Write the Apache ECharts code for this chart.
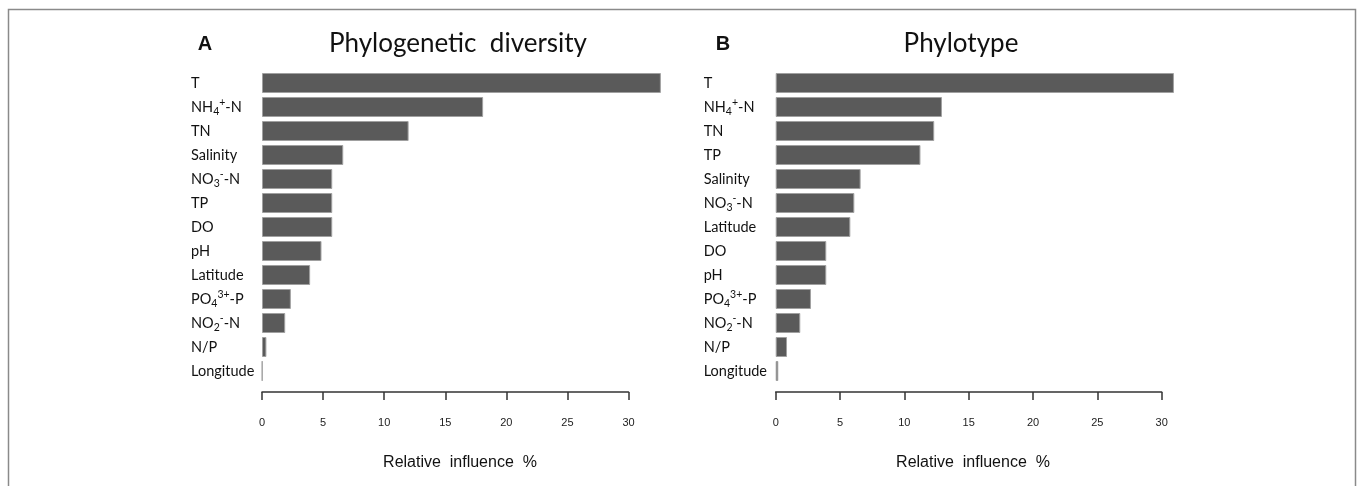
<!DOCTYPE html>
<html>
<head>
<meta charset="utf-8">
<script src="https://cdn.jsdelivr.net/npm/echarts@6/dist/echarts.min.js"></script>
<style>
  html, body { margin: 0; padding: 0; background: #fff; }
  #chart { width: 1360px; height: 486px; }
</style>
</head>
<body>
<div id="chart"></div>
<script>
// Relative influence (%) of environmental variables, two boosted-regression models
const categoriesA = ['T', 'NH4+-N', 'TN', 'Salinity', 'NO3--N', 'TP', 'DO', 'pH', 'Latitude', 'PO43+-P', 'NO2--N', 'N/P', 'Longitude'];
const valuesA = [32.65, 18.1, 12.0, 6.65, 5.75, 5.75, 5.75, 4.87, 3.94, 2.36, 1.9, 0.36, 0.03];

const categoriesB = ['T', 'NH4+-N', 'TN', 'TP', 'Salinity', 'NO3--N', 'Latitude', 'DO', 'pH', 'PO43+-P', 'NO2--N', 'N/P', 'Longitude'];
const valuesB = [30.95, 12.92, 12.32, 11.25, 6.6, 6.11, 5.8, 3.93, 3.93, 2.74, 1.91, 0.88, 0.2];

const xTicks = [0, 5, 10, 15, 20, 25, 30];
const panelTitles = ['Phylogenetic  diversity', 'Phylotype'];
const panelLetters = ['A', 'B'];
const axisTitle = 'Relative  influence  %';

// chemical names with sub/superscripts as rich text
const richNames = {
  'NH4+-N': 'NH{sub|4}{sup|+}-N',
  'NO3--N': 'NO{sub|3}{sup|-}-N',
  'PO43+-P': 'PO{sub|4}{sup|3+}-P',
  'NO2--N': 'NO{sub|2}{sup|-}-N'
};
const labelFont = 'Lato';

const chart = echarts.init(document.getElementById('chart'), null, { renderer: 'canvas' });

const grids = [
  { left: 262, top: 71, width: 366.5, height: 312 },
  { left: 775.7, top: 71, width: 386, height: 312 }
];

function yAxisFor(idx, cats) {
  return {
    type: 'category',
    gridIndex: idx,
    data: cats,
    inverse: true,
    axisLine: { show: false },
    axisTick: { show: false },
    axisLabel: {
      align: 'left',
      margin: idx === 0 ? 71 : 72,
      color: '#111',
      fontFamily: labelFont,
      fontSize: 14.5,
      formatter: (v) => richNames[v] || v,
      rich: {
        sub: { fontFamily: labelFont, fontSize: 10.5, color: '#111', padding: [9, 0, 0, 0] },
        sup: { fontFamily: labelFont, fontSize: 10.5, color: '#111', padding: [0, 0, 9, 0] }
      }
    }
  };
}

function xAxisFor(idx) {
  return {
    type: 'value',
    gridIndex: idx,
    min: xTicks[0],
    max: xTicks[xTicks.length - 1],
    interval: 5,
    position: 'bottom',
    offset: 9,
    splitLine: { show: false },
    axisLine: { show: true, lineStyle: { color: '#333', width: 1.5 } },
    axisTick: { show: true, length: 8, lineStyle: { color: '#333', width: 1.5 } },
    axisLabel: {
      margin: 25,
      color: '#222',
      fontFamily: 'Liberation Sans',
      fontSize: 11,
      showMinLabel: true,
      showMaxLabel: true
    }
  };
}

function barSeries(idx, vals) {
  return {
    type: 'bar',
    xAxisIndex: idx,
    yAxisIndex: idx,
    data: vals,
    barWidth: 20,
    clip: false,
    silent: true,
    itemStyle: { color: '#5a5a5a', borderColor: '#a0a0a0', borderWidth: 1 }
  };
}

function textTitle(text, x, y, family, size, weight) {
  return {
    text: text, left: x, top: y,
    textAlign: 'center', textVerticalAlign: 'middle',
    textStyle: { fontFamily: family, fontSize: size, fontWeight: weight, color: '#111' }
  };
}

chart.setOption({
  animation: false,
  backgroundColor: '#fff',
  grid: grids,
  xAxis: [xAxisFor(0), xAxisFor(1)],
  yAxis: [yAxisFor(0, categoriesA), yAxisFor(1, categoriesB)],
  series: [barSeries(0, valuesA), barSeries(1, valuesB)],
  title: [
    textTitle(panelTitles[0], 453, 39, labelFont, 26, 'normal'),
    textTitle(panelTitles[1], 956, 39, labelFont, 26, 'normal'),
    textTitle(panelLetters[0], 200, 39, 'Liberation Sans', 20, 'bold'),
    textTitle(panelLetters[1], 718, 39, 'Liberation Sans', 20, 'bold'),
    textTitle(axisTitle, 455, 458, 'Liberation Sans', 16, 'normal'),
    textTitle(axisTitle, 968, 458, 'Liberation Sans', 16, 'normal')
  ],
  graphic: [
    {
      type: 'rect',
      shape: { x: 8.5, y: 9.5, width: 1347, height: 520 },
      style: { fill: 'none', stroke: '#8a8a8a', lineWidth: 1.5 },
      silent: true
    }
  ]
});
</script>
</body>
</html>
